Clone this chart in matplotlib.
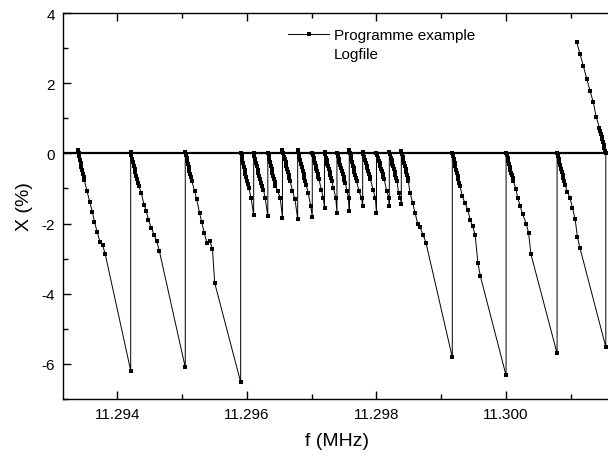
import matplotlib.pyplot as plt
from matplotlib.lines import Line2D
from matplotlib.ticker import FormatStrFormatter, MultipleLocator

plt.rcParams["font.family"] = ["Liberation Sans", "DejaVu Sans"]
plt.rcParams["axes.unicode_minus"] = False

# Logged sweeps: frequency (MHz) and deviation X (%), one pair per tooth
sweep1_f = [11.293394, 11.293403, 11.293414, 11.293424, 11.293435, 11.293446,
            11.293457, 11.293468, 11.293480, 11.293492, 11.293532, 11.293574,
            11.293614, 11.293648, 11.293691, 11.293733, 11.293775, 11.293815,
            11.294207]
sweep1_x = [0.10, 0.02, -0.08, -0.18, -0.28, -0.38, -0.48, -0.58, -0.68, -0.77,
            -1.06, -1.38, -1.66, -1.95, -2.25, -2.52, -2.62, -2.88, -6.19]

sweep2_f = [11.294207, 11.294218, 11.294230, 11.294242, 11.294255, 11.294267,
            11.294279, 11.294292, 11.294304, 11.294318, 11.294330, 11.294370,
            11.294412, 11.294448, 11.294481, 11.294528, 11.294569, 11.294608,
            11.294648, 11.295049]
sweep2_x = [0.03, -0.06, -0.15, -0.25, -0.35, -0.45, -0.54, -0.64, -0.74, -0.84,
            -0.93, -1.12, -1.46, -1.65, -1.90, -2.13, -2.32, -2.50, -2.77, -6.10]

sweep3_f = [11.295049, 11.295060, 11.295071, 11.295082, 11.295093, 11.295103,
            11.295114, 11.295125, 11.295136, 11.295151, 11.295194, 11.295225,
            11.295269, 11.295304, 11.295344, 11.295384, 11.295427, 11.295469,
            11.295503, 11.295904]
sweep3_x = [0.05, -0.04, -0.13, -0.22, -0.31, -0.40, -0.49, -0.58, -0.67, -0.79,
            -1.08, -1.31, -1.69, -1.97, -2.28, -2.55, -2.49, -2.72, -3.69, -6.52]

# short sweeps between 11.2959 and 11.2984 MHz
tooth_a_f = [11.295904, 11.295917, 11.295929, 11.295941, 11.295954, 11.295966,
             11.295978, 11.295991, 11.296003, 11.296015, 11.296028, 11.296066,
             11.296105]
tooth_a_x = [0.02, -0.08, -0.18, -0.28, -0.38, -0.48, -0.58, -0.68, -0.78, -0.88,
             -0.98, -1.27, -1.77]

tooth_b_f = [11.296105, 11.296117, 11.296130, 11.296142, 11.296154, 11.296167,
             11.296179, 11.296191, 11.296204, 11.296216, 11.296228, 11.296256,
             11.296282, 11.296323]
tooth_b_x = [0.02, -0.07, -0.17, -0.27, -0.36, -0.46, -0.55, -0.65, -0.74, -0.84,
             -0.93, -1.03, -1.27, -1.79]

tooth_c_f = [11.296323, 11.296335, 11.296346, 11.296358, 11.296370, 11.296382,
             11.296394, 11.296406, 11.296418, 11.296430, 11.296441, 11.296477,
             11.296515, 11.296549]
tooth_c_x = [0.02, -0.07, -0.17, -0.26, -0.36, -0.45, -0.55, -0.64, -0.74, -0.83,
             -0.93, -1.08, -1.27, -1.84]

tooth_d_f = [11.296549, 11.296561, 11.296573, 11.296585, 11.296597, 11.296609,
             11.296621, 11.296633, 11.296645, 11.296656, 11.296668, 11.296704,
             11.296742, 11.296784]
tooth_d_x = [0.09, 0.00, -0.09, -0.17, -0.26, -0.35, -0.44, -0.53, -0.61, -0.70,
             -0.79, -1.08, -1.31, -1.87]

tooth_e_f = [11.296784, 11.296797, 11.296810, 11.296822, 11.296835, 11.296848,
             11.296861, 11.296874, 11.296886, 11.296899, 11.296912, 11.296946,
             11.296985, 11.297009]
tooth_e_x = [0.09, -0.01, -0.11, -0.20, -0.30, -0.40, -0.50, -0.60, -0.69, -0.79,
             -0.89, -1.12, -1.50, -1.81]

tooth_f_f = [11.297009, 11.297019, 11.297030, 11.297040, 11.297050, 11.297061,
             11.297071, 11.297082, 11.297092, 11.297102, 11.297113, 11.297148,
             11.297179, 11.297198]
tooth_f_x = [0.02, -0.06, -0.13, -0.21, -0.28, -0.36, -0.44, -0.51, -0.59, -0.66,
             -0.74, -1.03, -1.27, -1.55]

tooth_g_f = [11.297198, 11.297209, 11.297220, 11.297231, 11.297243, 11.297254,
             11.297265, 11.297276, 11.297288, 11.297299, 11.297310, 11.297336,
             11.297372, 11.297390]
tooth_g_x = [0.05, -0.03, -0.12, -0.20, -0.29, -0.37, -0.45, -0.54, -0.62, -0.71,
             -0.79, -0.98, -1.27, -1.69]

tooth_h_f = [11.297390, 11.297403, 11.297416, 11.297429, 11.297442, 11.297454,
             11.297467, 11.297480, 11.297493, 11.297506, 11.297519, 11.297545,
             11.297571, 11.297580]
tooth_h_x = [0.02, -0.07, -0.15, -0.24, -0.32, -0.41, -0.50, -0.58, -0.67, -0.75,
             -0.84, -1.08, -1.27, -1.65]

tooth_i_f = [11.297580, 11.297591, 11.297603, 11.297614, 11.297625, 11.297636,
             11.297648, 11.297659, 11.297670, 11.297682, 11.297693, 11.297730,
             11.297770, 11.297787]
tooth_i_x = [0.10, 0.01, -0.08, -0.17, -0.26, -0.35, -0.43, -0.52, -0.61, -0.70,
             -0.79, -1.08, -1.27, -1.51]

tooth_j_f = [11.297787, 11.297799, 11.297811, 11.297823, 11.297835, 11.297846,
             11.297858, 11.297870, 11.297882, 11.297894, 11.297906, 11.297946,
             11.297983, 11.298000]
tooth_j_x = [0.05, -0.03, -0.11, -0.19, -0.27, -0.35, -0.42, -0.50, -0.58, -0.66,
             -0.74, -1.03, -1.27, -1.71]

tooth_k_f = [11.298000, 11.298012, 11.298024, 11.298036, 11.298048, 11.298059,
             11.298071, 11.298083, 11.298095, 11.298107, 11.298119, 11.298159,
             11.298190, 11.298198]
tooth_k_x = [0.02, -0.06, -0.13, -0.21, -0.28, -0.36, -0.44, -0.51, -0.59, -0.66,
             -0.74, -1.08, -1.27, -1.50]

tooth_l_f = [11.298198, 11.298209, 11.298221, 11.298233, 11.298245, 11.298257,
             11.298269, 11.298281, 11.298293, 11.298305, 11.298316, 11.298341,
             11.298367, 11.298383]
tooth_l_x = [0.05, -0.03, -0.12, -0.20, -0.29, -0.37, -0.45, -0.54, -0.62, -0.71,
             -0.79, -1.12, -1.27, -1.44]

sweep4_f = [11.298383, 11.298394, 11.298404, 11.298415, 11.298426, 11.298437,
            11.298448, 11.298458, 11.298469, 11.298480, 11.298491, 11.298517,
            11.298559, 11.298594, 11.298636, 11.298671, 11.298722, 11.298764,
            11.299170]
sweep4_x = [0.08, -0.01, -0.09, -0.18, -0.27, -0.36, -0.44, -0.53, -0.62, -0.70,
            -0.79, -1.12, -1.41, -1.69, -2.00, -2.10, -2.33, -2.55, -5.81]

sweep5_f = [11.299170, 11.299182, 11.299194, 11.299206, 11.299218, 11.299229,
            11.299241, 11.299253, 11.299265, 11.299277, 11.299289, 11.299324,
            11.299366, 11.299407, 11.299448, 11.299485, 11.299523, 11.299565,
            11.299602, 11.300000]
sweep5_x = [0.02, -0.08, -0.17, -0.27, -0.36, -0.46, -0.55, -0.65, -0.74, -0.84,
            -0.93, -1.22, -1.41, -1.60, -1.90, -2.08, -2.33, -3.12, -3.49, -6.33]

sweep6_f = [11.300000, 11.300011, 11.300023, 11.300034, 11.300045, 11.300056,
            11.300068, 11.300079, 11.300090, 11.300101, 11.300113, 11.300150,
            11.300181, 11.300216, 11.300258, 11.300309, 11.300347, 11.300383,
            11.300787]
sweep6_x = [0.02, -0.06, -0.14, -0.22, -0.30, -0.39, -0.47, -0.55, -0.63, -0.71,
            -0.79, -1.01, -1.27, -1.50, -1.74, -2.00, -2.26, -2.87, -5.70]

sweep7_f = [11.300787, 11.300799, 11.300812, 11.300824, 11.300836, 11.300849,
            11.300861, 11.300873, 11.300886, 11.300898, 11.300910, 11.300946,
            11.300988, 11.301023, 11.301065, 11.301100, 11.301142, 11.301539]
sweep7_x = [0.02, -0.07, -0.16, -0.25, -0.34, -0.44, -0.53, -0.62, -0.71, -0.80,
            -0.89, -1.10, -1.27, -1.55, -1.86, -2.38, -2.71, -5.52]

# return sweep, logged going down in frequency
return_f = [11.301539, 11.301528, 11.301517, 11.301506, 11.301495, 11.301485,
            11.301474, 11.301463, 11.301452, 11.301440, 11.301389, 11.301347,
            11.301296, 11.301245, 11.301193, 11.301142, 11.301091]
return_x = [0.00, 0.08, 0.16, 0.24, 0.32, 0.40, 0.48, 0.56, 0.64, 0.73, 1.05,
            1.45, 1.78, 2.13, 2.48, 2.83, 3.16]

sweeps = [
    (sweep1_f, sweep1_x), (sweep2_f, sweep2_x), (sweep3_f, sweep3_x),
    (tooth_a_f, tooth_a_x), (tooth_b_f, tooth_b_x), (tooth_c_f, tooth_c_x),
    (tooth_d_f, tooth_d_x), (tooth_e_f, tooth_e_x), (tooth_f_f, tooth_f_x),
    (tooth_g_f, tooth_g_x), (tooth_h_f, tooth_h_x), (tooth_i_f, tooth_i_x),
    (tooth_j_f, tooth_j_x), (tooth_k_f, tooth_k_x), (tooth_l_f, tooth_l_x),
    (sweep4_f, sweep4_x), (sweep5_f, sweep5_x), (sweep6_f, sweep6_x),
    (sweep7_f, sweep7_x), (return_f, return_x),
]
freq = [v for f, _ in sweeps for v in f]
dev = [v for _, x in sweeps for v in x]

fig = plt.figure(figsize=(6.08, 4.56), dpi=100)
# right edge of the frame sits just past the image border
ax = fig.add_axes([63.3 / 608, 56 / 456, 547.5 / 608, 386 / 456])

ax.axhline(0, color="black", lw=1.6, zorder=1)
ax.plot(freq, dev, color="black", lw=0.7, marker="s", ms=2.6, mew=0, zorder=2)

ax.set_xlim(11.293167, 11.301616)
ax.set_ylim(-7, 4)
ax.xaxis.set_major_locator(MultipleLocator(0.002))
ax.xaxis.set_minor_locator(MultipleLocator(0.001))
ax.xaxis.set_major_formatter(FormatStrFormatter("%.3f"))
ax.yaxis.set_major_locator(MultipleLocator(2))
ax.yaxis.set_minor_locator(MultipleLocator(1))
ax.tick_params(which="both", direction="in", top=True, right=False,
               labelsize=11, pad=6, width=1)
ax.tick_params(which="major", length=6)
ax.tick_params(which="minor", length=3.5)
for sp in ax.spines.values():
    sp.set_linewidth(1)

ax.set_xlabel("f (MHz)", fontsize=14)
ax.set_ylabel("X (%)", fontsize=14)
ax.xaxis.set_label_coords(0.5, -0.085)
ax.yaxis.set_label_coords(-0.056, 0.5)

handles = [
    Line2D([], [], color="black", lw=0.7, marker="s", ms=2.4, mew=0),
    Line2D([], [], linestyle="none"),
]
ax.legend(handles, ["Programme example", "Logfile"], frameon=False,
          fontsize=11, loc="upper left", borderpad=0, borderaxespad=0,
          handlelength=2.7, handletextpad=0.3, labelspacing=0.3,
          bbox_to_anchor=(288 / 608, 1 - 29 / 456), bbox_transform=fig.transFigure)

fig.savefig("out.png", dpi=100)
